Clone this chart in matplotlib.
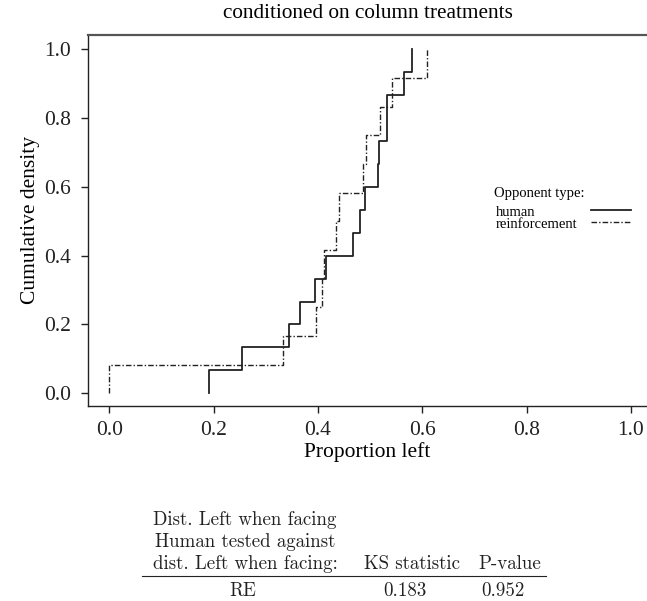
import numpy as np
import matplotlib.pyplot as plt
from matplotlib.lines import Line2D

# proportion left per subject
human = [0.192, 0.255, 0.344, 0.366, 0.394, 0.416, 0.468, 0.481, 0.491,
         0.515, 0.518, 0.533, 0.533, 0.565, 0.581]
reinforcement = [0.0, 0.333, 0.396, 0.407, 0.412, 0.435, 0.441, 0.487,
                 0.492, 0.519, 0.542, 0.61]

x_ticks = [0.0, 0.2, 0.4, 0.6, 0.8, 1.0]
y_ticks = [0.0, 0.2, 0.4, 0.6, 0.8, 1.0]

table_header = ["Dist. Left when facing", "Human tested against",
                "dist. Left when facing:"]
table_cols = ["KS statistic", "P-value"]
table_rows = [("RE", "0.183", "0.952")]

plt.rcParams['font.family'] = ['Liberation Serif', 'DejaVu Serif']


def ecdf_xy(values):
    v = np.sort(np.asarray(values, dtype=float))
    n = len(v)
    xs = np.concatenate([[v[0]], v])
    ys = np.concatenate([[0.0], np.arange(1, n + 1) / n])
    return xs, ys


W, H = 647, 601
fig = plt.figure(figsize=(W / 100, H / 100), dpi=100)
ax = fig.add_axes([88 / W, 1 - 406 / H, (W - 88) / W, (406 - 35) / H])

line_col = '#222222'
xs, ys = ecdf_xy(human)
ax.step(xs, ys, where='post', color=line_col, lw=1.3)
xs, ys = ecdf_xy(reinforcement)
ax.step(xs, ys, where='post', color=line_col, lw=1.0, dashes=(4, 1.5, 1, 1.5))

ax.set_xlim(-0.041, 1.031)
ax.set_ylim(-0.037, 1.0416)
ax.set_xticks(x_ticks)
ax.set_yticks(y_ticks)
ax.set_xticklabels([f"{t:.1f}" for t in x_ticks])
ax.set_yticklabels([f"{t:.1f}" for t in y_ticks])
ax.tick_params(direction='out', length=5, width=1, labelsize=15.5,
               colors='#222222')
ax.tick_params(axis='y', pad=7)
ax.tick_params(axis='x', pad=6)
ax.spines['right'].set_visible(False)
for s in ['left', 'bottom']:
    ax.spines[s].set_color('#222222')
    ax.spines[s].set_linewidth(1.0)
ax.spines['top'].set_color('#555555')
ax.spines['top'].set_linewidth(1.6)

ax.set_xlabel("Proportion left", fontsize=15.5, labelpad=1)
ax.set_ylabel("Cumulative density", fontsize=15.5, labelpad=3)
fig.text(368 / W, 1 - 14 / H, "conditioned on column treatments",
         ha='center', va='center', fontsize=15.3)

# legend block, drawn by hand like the original
fig.text(494 / W, 1 - 194 / H, "Opponent type:", fontsize=10.5,
         ha='left', va='center')
fig.text(496 / W, 1 - 212 / H, "human", fontsize=10.5, ha='left', va='center')
fig.text(496 / W, 1 - 224 / H, "reinforcement", fontsize=10.5,
         ha='left', va='center')
fig.add_artist(Line2D([591 / W, 631 / W], [1 - 210 / H, 1 - 210 / H],
                      transform=fig.transFigure, color=line_col, lw=1.3))
fig.add_artist(Line2D([591 / W, 631 / W], [1 - 222 / H, 1 - 222 / H],
                      transform=fig.transFigure, color=line_col, lw=1.0,
                      dashes=(4, 1.5, 1, 1.5)))

# table under the plot
cm = dict(family='cmr10', fontsize=13.6, color='#222222')
for i, line in enumerate(table_header):
    fig.text(245 / W, 1 - (520 + 22 * i) / H, line, ha='center',
             va='center', **cm)
fig.text(412 / W, 1 - 564 / H, table_cols[0], ha='center', va='center', **cm)
fig.text(510 / W, 1 - 564 / H, table_cols[1], ha='center', va='center', **cm)
fig.add_artist(Line2D([142 / W, 546 / W], [1 - 576 / H, 1 - 576 / H],
                      transform=fig.transFigure, color='#222222', lw=0.8))
for label, ks, p in table_rows:
    fig.text(243 / W, 1 - 591 / H, label, ha='center', va='center', **cm)
    fig.text(405 / W, 1 - 591 / H, ks, ha='center', va='center', **cm)
    fig.text(503 / W, 1 - 591 / H, p, ha='center', va='center', **cm)

fig.savefig('out.png', dpi=100)
